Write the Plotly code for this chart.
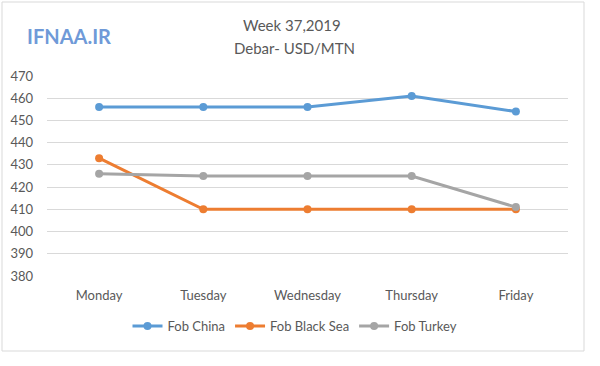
import plotly.graph_objects as go

days = ["Monday", "Tuesday", "Wednesday", "Thursday", "Friday"]
fob_china = [456, 456, 456, 461, 454]
fob_black_sea = [433, 410, 410, 410, 410]
fob_turkey = [426, 425, 425, 425, 411]
y_ticks = [380, 390, 400, 410, 420, 430, 440, 450, 460, 470]

series = [
    ("Fob China", fob_china, "#5b9bd5"),
    ("Fob Black Sea", fob_black_sea, "#ed7d31"),
    ("Fob Turkey", fob_turkey, "#a5a5a5"),
]

FONT = "Lato"
L, R, T, B = 47, 568, 76, 276
PW, PH = R - L, B - T

def px(x):
    return (x - L) / PW

def py(y):
    return (B - y) / PH

fig = go.Figure()
for name, vals, col in series:
    fig.add_trace(go.Scatter(
        x=days, y=vals, name=name, mode="lines+markers",
        line=dict(color=col, width=3),
        marker=dict(color=col, size=8),
    ))

fig.update_layout(
    width=600, height=366,
    margin=dict(l=L, r=600 - R, t=T, b=366 - B, autoexpand=False),
    paper_bgcolor="white", plot_bgcolor="white",
    font=dict(family=FONT, size=13, color="#595959"),
    showlegend=True,
    legend=dict(orientation="h", xref="container", yref="container",
                x=295 / 600, xanchor="center", y=1 - 326 / 366, yanchor="middle",
                font=dict(size=13, color="#595959"), itemwidth=30,
                traceorder="normal"),
    xaxis=dict(type="category", range=[-0.5, 4.5], showgrid=False,
               showline=False, ticks="", ticklabelstandoff=10, automargin=False,
               tickfont=dict(size=13, color="#595959")),
    yaxis=dict(range=[380, 470], tickvals=y_ticks, showgrid=True,
               gridcolor="#d9d9d9", gridwidth=1, zeroline=False,
               showline=False, ticks="", ticklabelstandoff=13, automargin=False,
               tickfont=dict(size=13, color="#595959")),
    shapes=[dict(type="rect", xref="paper", yref="paper",
                 x0=px(2), x1=px(584), y0=py(351), y1=py(2),
                 line=dict(color="#d9d9d9", width=1), fillcolor="rgba(0,0,0,0)",
                 layer="below")],
    annotations=[
        dict(text="Week 37,2019", xref="paper", yref="paper", x=px(292),
             y=py(25), xanchor="center", yanchor="middle", showarrow=False,
             font=dict(family=FONT, size=15, color="#595959")),
        dict(text="Debar- USD/MTN", xref="paper", yref="paper", x=px(294),
             y=py(48), xanchor="center", yanchor="middle", showarrow=False,
             font=dict(family=FONT, size=15, color="#595959")),
        dict(text="<b>IFNAA.IR</b>", xref="paper", yref="paper", x=px(25),
             y=py(36), xanchor="left", yanchor="middle", showarrow=False,
             font=dict(family=FONT, size=20, color="#6f9ad8")),
    ],
)

fig.write_html("out.html", config={"displayModeBar": False},
               post_script="document.body.style.margin='0px';")
